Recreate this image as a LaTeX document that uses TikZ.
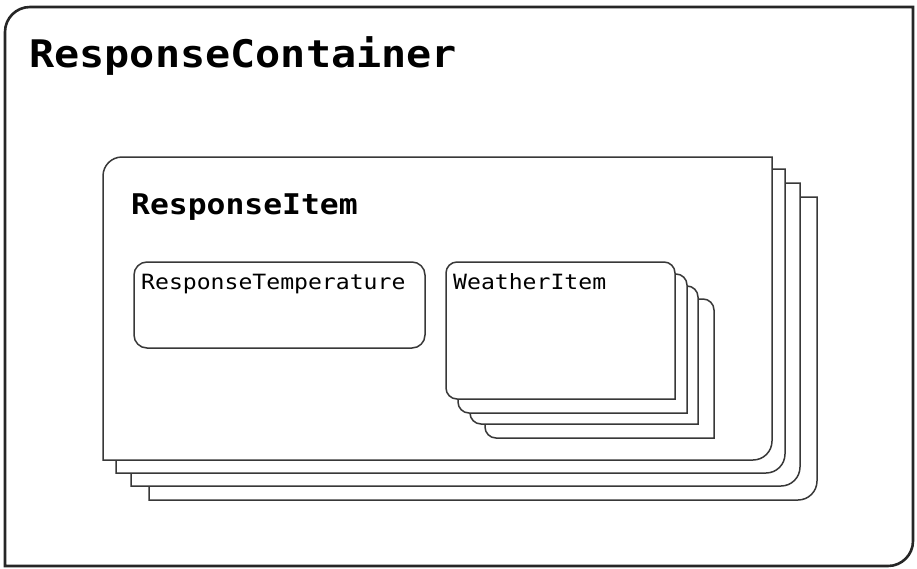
\documentclass[tikz,border=0pt]{standalone}
\usepackage{fontspec}
\newfontfamily\codefont{DejaVu Sans Mono}[FakeStretch=1.1]

% Card with rounded top-left and bottom-right corners: x1 y1 x2 y2 radius
\newcommand\diagcard[5]{%
  \filldraw[cardline] (#1,#2+#5) arc[start angle=180,end angle=270,radius=#5]
    -- (#3,#2) -- (#3,#4-#5) arc[start angle=0,end angle=90,radius=#5]
    -- (#1,#4) -- cycle;}
% Card with three rounded corners, bottom-right sharp: x1 y1 x2 y2 radius
\newcommand\tabcard[5]{%
  \filldraw[cardline] (#1,#2+#5) arc[start angle=180,end angle=270,radius=#5]
    -- (#3-#5,#2) arc[start angle=270,end angle=360,radius=#5]
    -- (#3,#4) -- (#1+#5,#4) arc[start angle=90,end angle=180,radius=#5]
    -- cycle;}

\begin{document}
\begin{tikzpicture}[x=1pt,y=-1pt,
  cardline/.style={draw=black!78,fill=white,line width=1.5pt},
  outerline/.style={draw=black!85,fill=white,line width=2.6pt},
  label/.style={anchor=base west,inner sep=0pt,text=black}]
\useasboundingbox (0,0) rectangle (917,568);

% outer container
\filldraw[outerline] (5,7+25) arc[start angle=180,end angle=270,radius=25]
  -- (913,7) -- (913,566-25) arc[start angle=0,end angle=90,radius=25]
  -- (5,566) -- cycle;
\node[label] (container) at (29,67)
  {\codefont\bfseries\fontsize{38}{40}\selectfont ResponseContainer};

% stack of response items, back to front
\diagcard{149}{197}{817}{500}{19}
\diagcard{131}{183}{800}{486}{19}
\diagcard{116}{169}{785}{473}{19}
\diagcard{103}{157}{772}{460}{19}
\node[label] (item) at (131,214)
  {\codefont\bfseries\fontsize{28.5}{30}\selectfont ResponseItem};

% temperature box
\filldraw[cardline,rounded corners=13] (134,262) rectangle (425,348);
\node[label] (temp) at (141,289)
  {\codefont\fontsize{21}{23}\selectfont ResponseTemperature};

% stack of weather items, back to front
\tabcard{485}{299}{714}{438}{11}
\tabcard{470}{286}{698}{424}{11}
\tabcard{458}{274}{687}{413}{11}
\tabcard{446}{262}{675}{399}{11}
\node[label] (weather) at (453,289)
  {\codefont\fontsize{21}{23}\selectfont WeatherItem};
\end{tikzpicture}
\end{document}
